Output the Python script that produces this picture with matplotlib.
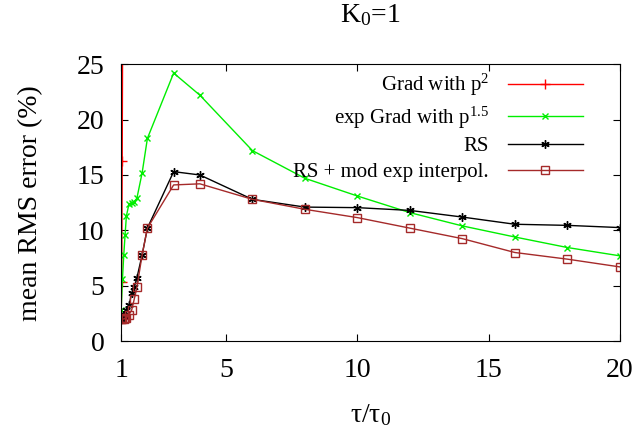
import matplotlib
matplotlib.use("Agg")
from matplotlib import pyplot as plt

# Data
tau_red = [1.0, 1.02, 1.04, 1.1]
grad_p2 = [2.0, 5.3, 16.3, 60.0]

tau = [1.0, 1.05, 1.1, 1.15, 1.2, 1.3, 1.4, 1.5, 1.6, 1.8, 2, 3, 4, 6, 8, 10, 12, 14, 16, 18, 20]
exp_grad = [2.8, 5.6, 7.8, 9.6, 11.3, 12.4, 12.5, 12.6, 12.9, 15.2, 18.3, 24.2, 22.2, 17.2,
            14.7, 13.1, 11.6, 10.4, 9.4, 8.45, 7.7]
rs = [2.0, 2.2, 2.3, 2.35, 2.8, 3.25, 4.3, 4.9, 5.7, 7.8, 10.2, 15.3, 15.0, 12.8,
      12.1, 12.05, 11.8, 11.2, 10.55, 10.45, 10.25]
rs_mod = [2.0, 2.0, 2.0, 2.05, 2.1, 2.4, 2.8, 3.8, 4.85, 7.8, 10.2, 14.1, 14.2, 12.8,
          11.9, 11.15, 10.2, 9.25, 8.0, 7.4, 6.7]

x_ticks = [1, 5, 10, 15, 20]
y_ticks = [0, 5, 10, 15, 20, 25]

plt.rcParams['font.family'] = ['Liberation Serif', 'DejaVu Serif']
plt.rcParams['mathtext.fontset'] = 'custom'
plt.rcParams['mathtext.rm'] = 'Liberation Serif'
plt.rcParams['mathtext.it'] = 'Liberation Serif:italic'

fig = plt.figure(figsize=(6.41, 4.28), dpi=100)
ax = fig.add_axes([0.189, 0.203, 0.778, 0.647])

ax.plot(tau_red, grad_p2, color='#ff0000', marker='+', markersize=7, linewidth=1,
        label='Grad with p$^{2}$')
ax.plot(tau, exp_grad, color='#00ee00', marker='x', markersize=5, linewidth=1,
        label='exp Grad with p$^{1.5}$')
ax.plot(tau, rs, color='black', marker=(6, 2, 0), markersize=6, linewidth=1,
        label='RS')
ax.plot(tau, rs_mod, color='#a52a2a', marker='s', markersize=5.5, markerfacecolor='none',
        linewidth=1, label='RS + mod exp interpol.')

ax.set_xlim(1, 20)
ax.set_ylim(0, 25)
ax.set_xticks(x_ticks)
ax.set_yticks(y_ticks)
ax.tick_params(direction='in', top=True, right=True, labelsize=20, length=5, pad=12)

ax.set_title('K$_0$=1', fontsize=20, pad=30)
ax.set_xlabel('τ/τ$_0$', fontsize=20, labelpad=14)
ax.set_ylabel('mean RMS error (%)', fontsize=20, labelpad=24)

leg = ax.legend(loc='upper right', frameon=False, markerfirst=False, fontsize=15,
                handlelength=3.6, handletextpad=0.9, labelspacing=0.3,
                borderaxespad=0.3, bbox_to_anchor=(0.955, 1.025))

fig.savefig('out.png', dpi=100)
